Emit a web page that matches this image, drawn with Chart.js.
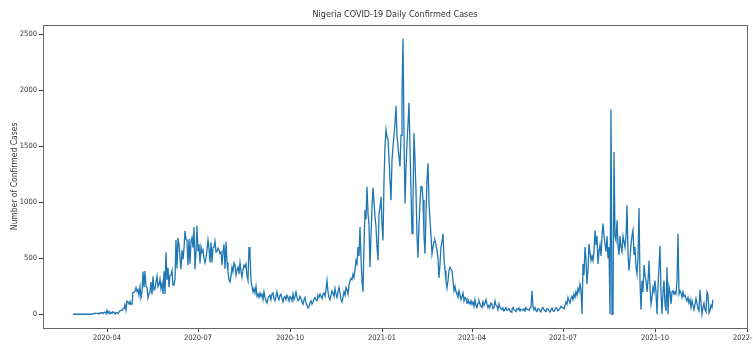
<!DOCTYPE html>
<html>
<head>
<meta charset="utf-8">
<script src="https://cdn.jsdelivr.net/npm/chart.js@4"></script>
<style>
  html, body { margin: 0; padding: 0; background: #fff; overflow: hidden; width: 753px; height: 345px; }
  canvas { display: block; }
</style>
</head>
<body>
<canvas id="chart" width="775" height="345"></canvas>
<script>
// daily confirmed cases, one value per day from startDate
const startDate = "2020-02-27";
const cases2020 = [
  1, 0, 0,
  0, 0, 0, 0, 0, 0, 0, 1, 0, 0, 0, 0, 0, 0, 0, 0, 1, 5, 4, 10, 8, 8, 4, 10, 5, 14, 16, 7, 16, 20, 4,
  35, 10, 25, 5, 18, 8, 22, 16, 2, 17, 13, 5, 20, 30, 34, 35, 51, 49, 86, 38, 117, 108, 91, 114, 87, 91, 195, 196, 204, 238,
  204, 220, 170, 245, 148, 195, 381, 239, 386, 248, 242, 146, 184, 193, 288, 176, 338, 216, 226, 284, 339, 245, 265, 313, 229, 276, 182, 387, 182, 553, 307,
  416, 241, 348, 350, 389, 260, 260, 315, 663, 409, 681, 627, 501, 403, 573, 490, 587, 745, 667, 661, 436, 675, 452, 649, 684, 594, 779, 403, 566, 790,
  561, 626, 454, 603, 553, 575, 499, 460, 499, 575, 664, 595, 463, 643, 463, 595, 600, 653, 556, 562, 591, 577, 543, 555, 438, 555, 624, 404, 648, 462, 386,
  304, 288, 340, 420, 380, 460, 440, 350, 400, 420, 360, 460, 380, 330, 400, 440, 420, 450, 340, 300, 600, 540, 300, 250, 200, 230, 190, 250, 160, 180, 150,
  190, 160, 180, 130, 200, 150, 120, 100, 140, 160, 170, 130, 180, 190, 140, 120, 160, 200, 150, 130, 170, 180, 140, 110, 150, 160, 130, 170, 150, 120,
  160, 150, 120, 180, 130, 160, 200, 150, 120, 130, 160, 140, 110, 90, 130, 150, 100, 80, 55, 70, 100, 120, 90, 110, 140, 150, 130, 120, 170, 150, 180,
  160, 140, 180, 190, 160, 220, 300, 200, 150, 130, 170, 210, 190, 160, 230, 180, 150, 200, 240, 190, 130, 110, 150, 200, 170, 240, 220, 180, 260, 300,
  320, 310, 360, 330, 400, 480, 450, 600, 520, 780, 500, 300, 200, 620, 930, 850, 1140, 900, 800, 420, 700, 960, 1130, 1000, 870, 780, 600, 480, 900, 950, 1050
];
const cases2021 = [
  800, 660, 1200, 1500, 1650, 1590, 1560, 1400, 1200, 1020, 1380, 1500, 1600, 1700, 1860, 1600, 1500, 1400, 1320, 1600, 1950, 2464, 1600, 990, 1300, 1530, 1700, 1890, 1500, 1100, 720,
  1000, 1620, 1380, 1100, 700, 505, 800, 1000, 1140, 1140, 1020, 700, 540, 900, 1200, 1350, 1000, 840, 700, 540, 600, 650, 660, 620, 570, 500, 325, 450,
  600, 650, 720, 500, 390, 300, 235, 300, 390, 420, 400, 390, 300, 210, 250, 200, 180, 150, 210, 170, 130, 160, 190, 120, 150, 140, 100, 130, 110, 90, 120,
  90, 110, 70, 130, 80, 60, 100, 120, 90, 70, 60, 110, 80, 100, 130, 90, 60, 80, 70, 100, 90, 50, 60, 120, 80, 70, 40, 90, 60, 50,
  40, 55, 30, 45, 60, 35, 40, 50, 30, 20, 45, 60, 40, 35, 25, 50, 40, 55, 30, 45, 40, 35, 50, 30, 60, 45, 40, 35, 55, 60, 210,
  70, 40, 60, 35, 25, 50, 45, 30, 20, 55, 60, 40, 30, 25, 50, 45, 35, 20, 40, 55, 30, 25, 45, 60, 50, 30, 40, 55, 70, 60,
  60, 50, 80, 110, 90, 150, 120, 100, 140, 160, 130, 180, 150, 200, 170, 230, 200, 270, 220, 0, 450, 350, 600, 480, 270, 400, 630, 550, 480, 520, 480,
  560, 750, 620, 700, 450, 560, 620, 520, 700, 810, 700, 630, 560, 700, 500, 600, 0, 1830, 0, 0, 1450, 700, 660, 840, 620, 530, 700, 600, 560, 700, 650,
  600, 700, 975, 530, 390, 500, 620, 700, 750, 530, 600, 420, 360, 500, 950, 300, 40, 300, 200, 440, 350, 300, 200, 300, 480, 240, 90, 150, 240, 200,
  300, 200, 0, 250, 420, 610, 200, 0, 200, 300, 90, 30, 420, 0, 250, 200, 90, 200, 210, 180, 200, 180, 300, 720, 180, 210, 190, 150, 200, 160, 170,
  140, 120, 150, 100, 130, 60, 120, 80, 40, 90, 140, 100, 50, 30, 220, 100, 0, 60, 100, 40, 20, 200, 180, 10, 30, 80, 60, 130
];
const xTickLabels = ["2020-04", "2020-07", "2020-10", "2021-01", "2021-04", "2021-07", "2021-10", "2022-01"];
const yTicks = [0, 500, 1000, 1500, 2000, 2500];
const xRange = ["2020-01-28", "2022-01-01"];
const yRange = [-123, 2587];

const FONT = "'Liberation Sans Narrow', 'DejaVu Sans Condensed', 'Liberation Sans', sans-serif";
const DAY = 86400000;
const toTime = (s) => {
  const [y, m, d] = s.split("-").map(Number);
  return Date.UTC(y, m - 1, d || 1);
};

const start = toTime(startDate);
const points = cases2020.concat(cases2021).map((v, i) => ({ x: start + i * DAY, y: v }));

// matplotlib style box round the plot area
const frame = {
  id: "frame",
  afterDraw(chart) {
    const { ctx, chartArea: a } = chart;
    ctx.save();
    ctx.strokeStyle = "#666";
    ctx.lineWidth = 1;
    ctx.strokeRect(Math.round(a.left) + 0.5, Math.round(a.top) + 0.5, Math.round(a.right - a.left), Math.round(a.bottom - a.top));
    ctx.restore();
  },
};

new Chart(document.getElementById("chart"), {
  type: "line",
  data: {
    datasets: [
      {
        data: points,
        borderColor: "#1f77b4",
        borderWidth: 1.3,
        pointRadius: 0,
        tension: 0,
        fill: false,
      },
    ],
  },
  options: {
    responsive: false,
    animation: false,
    devicePixelRatio: 1,
    layout: { padding: { left: 0, right: 28, top: 0, bottom: 0 } },
    plugins: {
      legend: { display: false },
      tooltip: { enabled: false },
      title: {
        display: true,
        text: "Nigeria COVID-19 Daily Confirmed Cases",
        fullSize: false,
        color: "#333",
        font: { family: FONT, size: 9, weight: "normal" },
        padding: { top: 9, bottom: 5 },
      },
    },
    scales: {
      x: {
        type: "linear",
        min: toTime(xRange[0]),
        max: toTime(xRange[1]),
        afterBuildTicks: (s) => {
          s.ticks = xTickLabels.map((l) => ({ value: toTime(l) }));
        },
        afterFit: (s) => {
          s.height = 17;
        },
        ticks: {
          autoSkip: false,
          maxRotation: 0,
          padding: 2,
          color: "#333",
          font: { family: FONT, size: 7.5 },
          callback: (v) => xTickLabels.find((l) => toTime(l) === v) || "",
        },
        grid: { display: true, drawOnChartArea: false, drawTicks: true, tickLength: 4, color: "#444" },
        border: { display: false },
      },
      y: {
        min: yRange[0],
        max: yRange[1],
        afterBuildTicks: (s) => {
          s.ticks = yTicks.map((v) => ({ value: v }));
        },
        afterFit: (s) => {
          s.width = 43;
        },
        ticks: { padding: 2, color: "#333", font: { family: FONT, size: 7.5 }, callback: (v) => String(v) },
        grid: { display: true, drawOnChartArea: false, drawTicks: true, tickLength: 4, color: "#444" },
        border: { display: false },
        title: {
          display: true,
          text: "Number of Confirmed Cases",
          color: "#333",
          font: { family: FONT, size: 8.5 },
          padding: { top: 10, bottom: 0 },
        },
      },
    },
  },
  plugins: [frame],
});
</script>
</body>
</html>
